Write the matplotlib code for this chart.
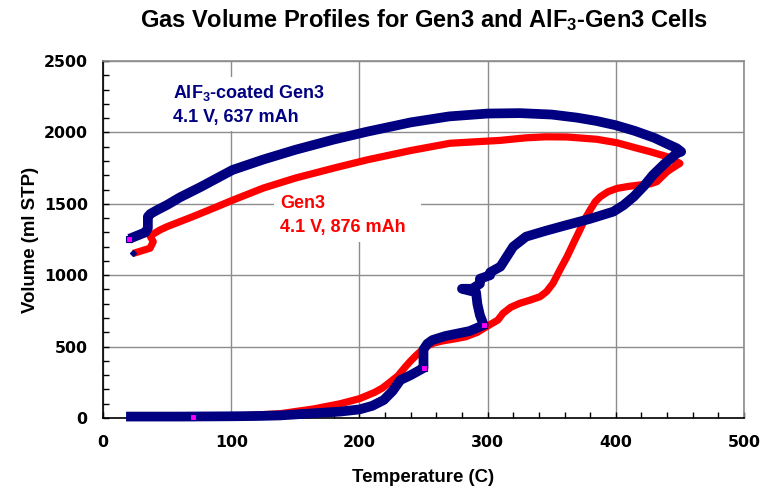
import matplotlib
matplotlib.use("Agg")
import matplotlib.pyplot as plt
from matplotlib.ticker import MultipleLocator
from matplotlib.patches import Rectangle

# ---------------- data ----------------
# AlF3-coated Gen3 : heating branch then cooling branch
blue_T = [18, 60, 100, 120, 138, 164, 185, 200, 210, 219, 226, 232, 240, 247, 250,
          250, 253, 257, 267, 286, 297, 294, 292, 291, 280, 288, 294, 294, 302, 302,
          310, 320, 330, 345, 362, 380, 398, 406, 414, 422, 429, 438, 447.5, 451,
          447.5, 440, 430, 415, 400, 385, 370, 350, 325, 300, 270, 240, 206, 180,
          150, 125, 101, 76, 60, 50, 42, 37, 35, 35, 33, 20.5]
blue_V = [10, 10, 12, 14, 18, 33, 45, 60, 85, 126, 190, 266, 300, 335, 350,
          480, 520, 546, 574, 609, 651, 720, 800, 880, 905, 905, 940, 975, 1000, 1020,
          1060, 1200, 1270, 1310, 1352, 1395, 1445, 1490, 1550, 1625, 1702, 1780, 1853, 1865,
          1889, 1920, 1962, 2010, 2050, 2080, 2103, 2125, 2135, 2132, 2112, 2070, 2005, 1950,
          1878, 1810, 1737, 1617, 1545, 1492, 1455, 1430, 1410, 1330, 1300, 1255]

# Gen3 : heating branch then cooling branch
red_T = [70, 100, 138, 164, 185, 200, 212, 218, 224, 230, 236, 240, 245, 252, 258, 265,
         275, 283, 292, 299, 305, 308, 312, 318, 325, 333, 341, 346, 351, 356, 362, 367,
         372, 376, 380, 384, 388, 394, 401, 410, 419, 427, 432, 436, 440, 445, 450,
         440, 426.7, 415, 400.7, 385, 361.7, 345, 330, 309.7, 290, 270.7, 240, 205.7,
         180, 150, 125, 101.6, 85, 70, 60, 50, 44.5, 36.7, 39.2, 36.7, 23.7]
red_V = [10, 12, 30, 63, 100, 135, 180, 210, 252, 295, 360, 400, 445, 500, 525, 540,
         555, 569, 600, 639, 670, 686, 733, 775, 803, 825, 850, 885, 943, 1030, 1130, 1225,
         1317, 1395, 1457, 1515, 1550, 1585, 1608, 1622, 1632, 1640, 1655, 1690, 1725, 1755, 1783,
         1830, 1865, 1893, 1928, 1952, 1968, 1969, 1962, 1944, 1934, 1924, 1873, 1807,
         1750, 1680, 1610, 1527, 1465, 1410, 1375, 1340, 1317, 1275, 1235, 1189, 1153]

# highlighted points
mag_T = [20.5, 297, 250, 70]
mag_V = [1255, 651, 350, 10]
red_start_T = [23.7]
red_start_V = [1153]

title = r"Gas Volume Profiles for Gen3 and AlF$_{3}$-Gen3 Cells"
xlab = "Temperature (C)"
ylab = "Volume (ml STP)"
blue_lbl = [r"AlF$_{3}$-coated Gen3", "4.1 V, 637 mAh"]
red_lbl = ["Gen3", "4.1 V, 876 mAh"]

# ---------------- style ----------------
plt.rcParams["mathtext.fontset"] = "custom"
plt.rcParams["mathtext.rm"] = "Liberation Sans:bold"
plt.rcParams["mathtext.bf"] = "Liberation Sans:bold"
plt.rcParams["mathtext.it"] = "Liberation Sans:bold"

NAVY = "#000080"
RED = "#FF0000"
GRID = "#8c8c8c"
FONT = "Liberation Sans"

W, H = 770, 488
fig = plt.figure(figsize=(W / 100, H / 100), dpi=100)
ax = fig.add_axes([103 / W, 1 - 418 / H, (744 - 103) / W, (418 - 61) / H])

ax.set_xlim(0, 500)
ax.set_ylim(0, 2500)
ax.xaxis.set_major_locator(MultipleLocator(100))
ax.xaxis.set_minor_locator(MultipleLocator(20))
ax.yaxis.set_major_locator(MultipleLocator(500))
ax.yaxis.set_minor_locator(MultipleLocator(100))
ax.grid(True, which="major", color=GRID, lw=1.0, zorder=0)
ax.set_axisbelow(True)

ax.tick_params(which="both", direction="in", top=False, right=False,
               length=4, width=1, color="black")
ax.tick_params(axis="y", which="major", pad=11)
ax.tick_params(axis="x", which="major", pad=12)
for lab in ax.get_xticklabels() + ax.get_yticklabels():
    lab.set_fontfamily("DejaVu Sans")
    lab.set_fontweight("bold")
    lab.set_fontsize(11.3)

for s in ["left", "bottom"]:
    ax.spines[s].set_color("black")
    ax.spines[s].set_linewidth(1.2)
for s in ["top", "right"]:
    ax.spines[s].set_color(GRID)
    ax.spines[s].set_linewidth(1.2)


def white_box(x0, y0, x1, y1):
    # label background (figure pixel box), drawn above grid but below the curves
    ax.add_patch(Rectangle((x0 / W, 1 - y1 / H), (x1 - x0) / W, (y1 - y0) / H,
                           transform=fig.transFigure, facecolor="white",
                           edgecolor="none", zorder=1.5))


white_box(167, 77, 338, 131)
white_box(274, 160, 421, 242)

ax.plot(red_T, red_V, color=RED, lw=5.2, solid_joinstyle="round",
        solid_capstyle="butt", zorder=3, clip_on=False)
ax.plot(blue_T, blue_V, color=NAVY, lw=7.0, solid_joinstyle="round",
        solid_capstyle="butt", zorder=4, clip_on=False)
ax.plot(mag_T, mag_V, ls="none", marker="s", ms=4, mfc="#FF00FF", mec=NAVY,
        mew=0.8, zorder=5, clip_on=False)
ax.plot(red_start_T, red_start_V, ls="none", marker="D", ms=3, mfc=NAVY, mec=NAVY,
        zorder=5, clip_on=False)


def put(x_px, y_px, s, color):
    return fig.text(x_px / W, 1 - y_px / H, s, color=color, fontfamily=FONT,
                    fontweight="bold", fontsize=13, ha="left", va="baseline", zorder=6)


put(173, 97.5, blue_lbl[0], NAVY)
put(173, 121.7, blue_lbl[1], NAVY)
put(280, 208.3, red_lbl[0], RED)
put(280, 231.7, red_lbl[1], RED)

ax_cx = (103 + 744) / 2
fig.text(ax_cx / W, 1 - 27.5 / H, title, fontfamily=FONT, fontweight="bold",
         fontsize=17, ha="center", va="baseline")
fig.text(ax_cx / W, 1 - 482 / H, xlab, fontfamily=FONT, fontweight="bold",
         fontsize=13.4, ha="center", va="baseline")
fig.text(35 / W, 1 - 239.5 / H, ylab, fontfamily=FONT, fontweight="bold",
         fontsize=13.4, ha="center", va="baseline", rotation=90,
         rotation_mode="anchor")

fig.savefig("out.png", dpi=100)
